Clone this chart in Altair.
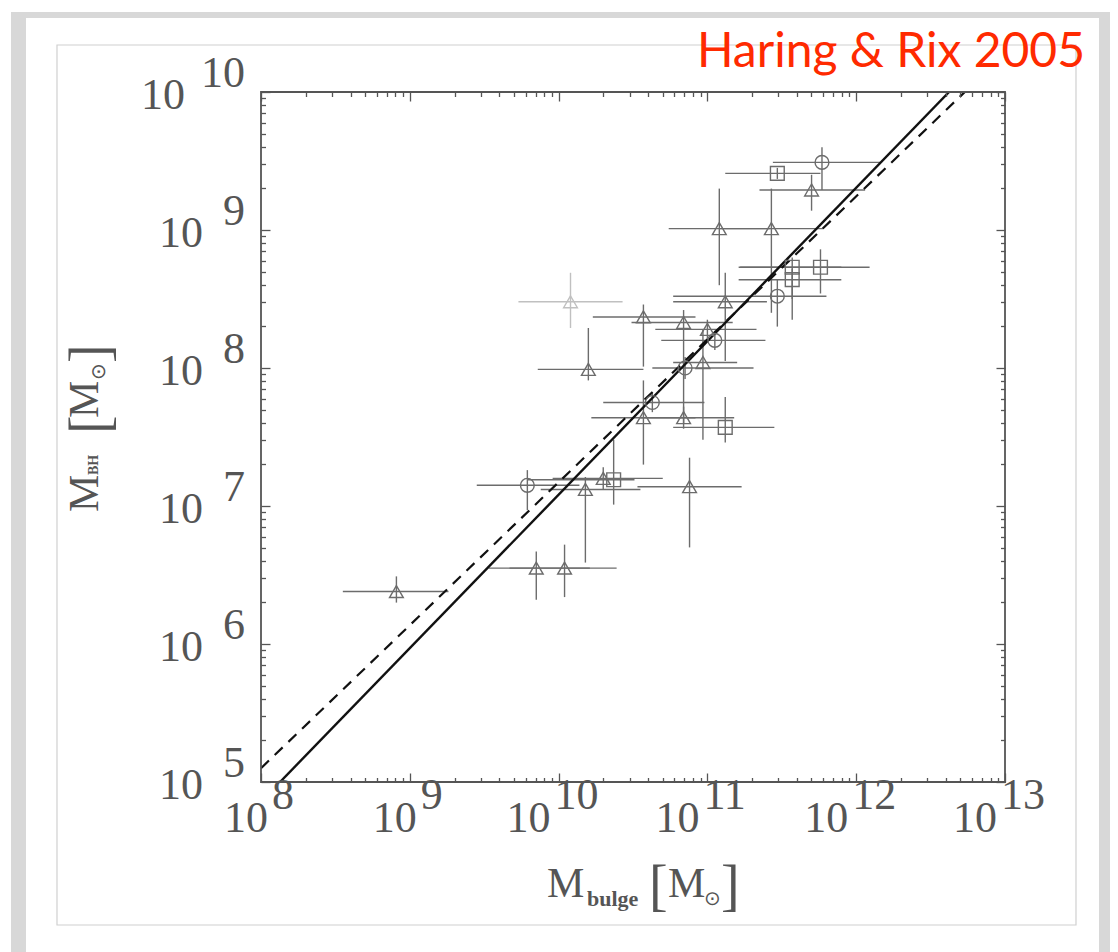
import altair as alt
import pandas as pd
import numpy as np

# ---------------- data (log10 values) ----------------
shape = ["sq", "ci", "tr", "tr", "tr", "sq", "sq", "sq", "ci", "tr",
         "tr", "tr", "tr", "tr", "ci", "tr", "ci", "tr", "ci", "tr",
         "tr", "sq", "ci", "tr", "tr", "sq", "tr", "tr", "tr", "tr"]
tone = ["dark"] * 10 + ["light"] + ["dark"] * 19
log_mbulge = [11.47, 11.77, 11.70, 11.08, 11.43, 11.76, 11.57, 11.57, 11.47, 11.12,
              10.08, 10.57, 10.84, 11.00, 11.05, 10.20, 10.85, 10.97, 10.63, 10.57,
              10.84, 11.12, 9.79, 10.18, 10.30, 10.37, 10.88, 9.85, 10.04, 8.91]
log_mbh = [9.41, 9.49, 9.29, 9.01, 9.01, 8.73, 8.73, 8.64, 8.52, 8.48,
           8.48, 8.37, 8.33, 8.28, 8.20, 7.99, 8.00, 8.04, 7.75, 7.64,
           7.64, 7.57, 7.15, 7.12, 7.20, 7.19, 7.14, 6.55, 6.55, 6.38]
log_mbulge_lo = [11.12, 11.44, 11.35, 10.74, 11.08, 11.22, 11.21, 11.21, 10.77, 10.77,
                 9.73, 10.23, 10.49, 10.65, 10.69, 9.86, 10.63, 10.77, 10.30, 10.22,
                 10.55, 10.77, 9.45, 9.88, 9.96, 9.79, 10.53, 9.53, 9.67, 8.55]
log_mbulge_hi = [11.76, 12.16, 12.06, 11.42, 11.78, 12.09, 11.90, 11.90, 11.80, 11.40,
                 10.43, 10.92, 11.17, 11.33, 11.39, 10.57, 11.31, 11.20, 10.98, 10.92,
                 11.18, 11.45, 10.14, 10.55, 10.70, 10.51, 11.23, 10.21, 10.39, 9.26]
log_mbh_lo = [9.37, 9.29, 9.14, 8.60, 8.40, 8.54, 8.50, 8.35, 8.30, 8.05,
              8.29, 8.01, 7.60, 8.20, 8.13, 7.91, 7.92, 7.48, 7.68, 7.30,
              7.56, 7.46, 6.97, 6.59, 7.12, 7.01, 6.70, 6.32, 6.34, 6.30]
log_mbh_hi = [9.45, 9.60, 9.40, 9.30, 9.30, 8.86, 8.80, 8.72, 8.64, 8.69,
              8.69, 8.46, 8.42, 8.35, 8.27, 8.29, 8.08, 8.28, 7.82, 7.91,
              7.72, 7.79, 7.26, 7.21, 7.28, 7.48, 7.35, 6.67, 6.72, 6.49]

# relation lines (end points, log10)
solid_lx = [8.128, 12.624]
solid_ly = [5.0, 10.0]
dashed_lx = [8.0, 12.73]
dashed_ly = [5.10, 10.0]

x_exps = [8, 9, 10, 11, 12, 13]
y_exps = [5, 6, 7, 8, 9, 10]

# ---------------- tables ----------------
pts = pd.DataFrame({
    "shape": shape, "tone": tone,
    "mx": np.power(10.0, log_mbulge), "my": np.power(10.0, log_mbh),
    "mx_lo": np.power(10.0, log_mbulge_lo), "mx_hi": np.power(10.0, log_mbulge_hi),
    "my_lo": np.power(10.0, log_mbh_lo), "my_hi": np.power(10.0, log_mbh_hi),
})
lines = pd.DataFrame({
    "mx": np.power(10.0, solid_lx + dashed_lx),
    "my": np.power(10.0, solid_ly + dashed_ly),
    "kind": ["solid", "solid", "dashed", "dashed"],
})
x_ticks = [k * 10.0 ** d for d in x_exps[:-1] for k in range(1, 10)] + [10.0 ** x_exps[-1]]
y_ticks = [k * 10.0 ** d for d in y_exps[:-1] for k in range(1, 10)] + [10.0 ** y_exps[-1]]
xt = pd.DataFrame({"mx": x_ticks})
yt = pd.DataFrame({"my": y_ticks})

xl = pd.DataFrame({"mx": [10.0 ** e for e in x_exps], "base": ["10"] * len(x_exps),
                   "exp": [str(e) for e in x_exps]})
yl = pd.DataFrame({"my": [10.0 ** e for e in y_exps], "base": ["10"] * len(y_exps),
                   "exp": [str(e) for e in y_exps]})

W, H = 744, 690
XS = alt.Scale(type="log", domain=[1e8, 1e13], nice=False)
YS = alt.Scale(type="log", domain=[1e5, 1e10], nice=False)
SERIF = "Liberation Serif"
LAB = "#555555"
major = "abs(log(datum.value)/LN10 - round(log(datum.value)/LN10)) < 0.001"
tick_size = {"condition": {"test": major, "value": -9}, "value": -4.5}


def tick_axis(orient):
    return alt.Axis(orient=orient, values=x_ticks if orient in ("top", "bottom") else y_ticks,
                    labels=False, domain=False, grid=False, title=None, zindex=2,
                    tickColor="#555555", tickWidth=1.3, tickSize=tick_size)


one = pd.DataFrame({"a": [0]})

# decorations (card, shadow and inner frame)
shadow = alt.Chart(one).mark_rect(color="#d8d8d8").encode(
    x=alt.value(-250), x2=alt.value(849), y=alt.value(-80), y2=alt.value(880))
card = alt.Chart(one).mark_rect(color="white").encode(
    x=alt.value(-235), x2=alt.value(838), y=alt.value(-74), y2=alt.value(880))
frame = alt.Chart(one).mark_rect(fill="white", stroke="#d0d0d0", strokeWidth=1.2).encode(
    x=alt.value(-204), x2=alt.value(815), y=alt.value(-47), y2=alt.value(833))
plotbox = alt.Chart(one).mark_rect(fillOpacity=0, stroke="#555555", strokeWidth=1.8).encode(
    x=alt.value(0), x2=alt.value(W), y=alt.value(0), y2=alt.value(H))

ERR = alt.Color("tone:N", scale=alt.Scale(domain=["dark", "light"], range=["#6c6c6c", "#c0c0c0"]), legend=None)
xbars = alt.Chart(pts).mark_rule(strokeWidth=1.4).encode(
    x=alt.X("mx_lo:Q", scale=XS, axis=None), x2="mx_hi:Q",
    y=alt.Y("my:Q", scale=YS, axis=None), color=ERR)
ybars = alt.Chart(pts).mark_rule(strokeWidth=1.4).encode(
    x=alt.X("mx:Q", scale=XS, axis=None),
    y=alt.Y("my_lo:Q", scale=YS, axis=None), y2="my_hi:Q", color=ERR)

solid = alt.Chart(lines).transform_filter("datum.kind == 'solid'").mark_line(
    color="#111111", strokeWidth=2.4, clip=True).encode(
    x=alt.X("mx:Q", scale=XS, axis=None), y=alt.Y("my:Q", scale=YS, axis=None))
dashed = alt.Chart(lines).transform_filter("datum.kind == 'dashed'").mark_line(
    color="#111111", strokeWidth=2.2, strokeDash=[11, 8], clip=True).encode(
    x=alt.X("mx:Q", scale=XS, axis=None), y=alt.Y("my:Q", scale=YS, axis=None))

points = alt.Chart(pts).mark_point(filled=False, strokeWidth=1.4, size=190, opacity=1).encode(
    x=alt.X("mx:Q", scale=XS, axis=None), y=alt.Y("my:Q", scale=YS, axis=None),
    shape=alt.Shape("shape:N", scale=alt.Scale(domain=["tr", "ci", "sq"],
                                               range=["triangle-up", "circle", "square"]), legend=None),
    color=alt.Color("tone:N", scale=alt.Scale(domain=["dark", "light"], range=["#2a2a2a", "#aaaaaa"]), legend=None))

ax_b = alt.Chart(xt).mark_point(opacity=0).encode(x=alt.X("mx:Q", scale=XS, axis=tick_axis("bottom")))
ax_t = alt.Chart(xt).mark_point(opacity=0).encode(x=alt.X("mx:Q", scale=XS, axis=tick_axis("top")))
ax_l = alt.Chart(yt).mark_point(opacity=0).encode(y=alt.Y("my:Q", scale=YS, axis=tick_axis("left")))
ax_r = alt.Chart(yt).mark_point(opacity=0).encode(y=alt.Y("my:Q", scale=YS, axis=tick_axis("right")))

FS = 44
one_digit = "length(datum.exp) == 1"
two_digit = "length(datum.exp) == 2"


def xlab(flt, field, align, dx, y):
    return alt.Chart(xl).transform_filter(flt).mark_text(
        font=SERIF, fontSize=FS, color=LAB, align=align, baseline="alphabetic", dx=dx).encode(
        x=alt.X("mx:Q", scale=XS, axis=None), y=alt.value(y), text=f"{field}:N")


def ylab(flt, field, x, dy):
    return alt.Chart(yl).transform_filter(flt).mark_text(
        font=SERIF, fontSize=FS, color=LAB, align="right", baseline="alphabetic", dy=dy).encode(
        y=alt.Y("my:Q", scale=YS, axis=None), x=alt.value(x), text=f"{field}:N")


labels = [
    xlab(one_digit, "base", "right", 7, 740), xlab(one_digit, "exp", "left", 11, 717),
    xlab(two_digit, "base", "right", -8, 740), xlab(two_digit, "exp", "left", -4, 717),
    ylab(one_digit, "base", -58, 17), ylab(two_digit, "base", -76, 17),
    ylab("true", "exp", -16, -5),
]


def txt(s, x, y, size, angle=0, bold=False, font=SERIF, color=LAB, align="left"):
    return alt.Chart(one).mark_text(text=s, font=font, fontSize=size, color=color, align=align,
                                    baseline="alphabetic", angle=angle,
                                    fontWeight="bold" if bold else "normal").encode(
        x=alt.value(x), y=alt.value(y))


xtitle = [txt("M", 286, 805, 42), txt("bulge", 326, 814, 22, bold=True),
          txt("[", 388, 812, 56), txt("M", 407, 805, 42), txt("\u2299", 443, 813, 20),
          txt("]", 460, 812, 56)]
ytitle = [txt("M", -163, 420, 42, angle=270), txt("BH", -163, 383, 14, angle=270, bold=True),
          txt("[", -153, 342, 56, angle=270), txt("M", -163, 326, 42, angle=270),
          txt("\u2299", -156, 288, 20, angle=270), txt("]", -153, 271, 56, angle=270)]
red = txt("Haring & Rix 2005", 824, -25, 48, font="Lato", color="#ff2a00", align="right")

chart = alt.layer(
    shadow, card, frame,
    xbars, ybars, solid, dashed, points, plotbox,
    ax_b, ax_t, ax_l, ax_r,
    *labels, *xtitle, *ytitle, red,
).resolve_axis(x="independent", y="independent").properties(
    width=W, height=H,
    autosize=alt.AutoSizeParams(type="none"),
    padding={"left": 261, "top": 92, "right": 113, "bottom": 170},
).configure_view(stroke=None).configure(background="white")

chart.save("out.html", embed_options={"renderer": "svg", "actions": False})
